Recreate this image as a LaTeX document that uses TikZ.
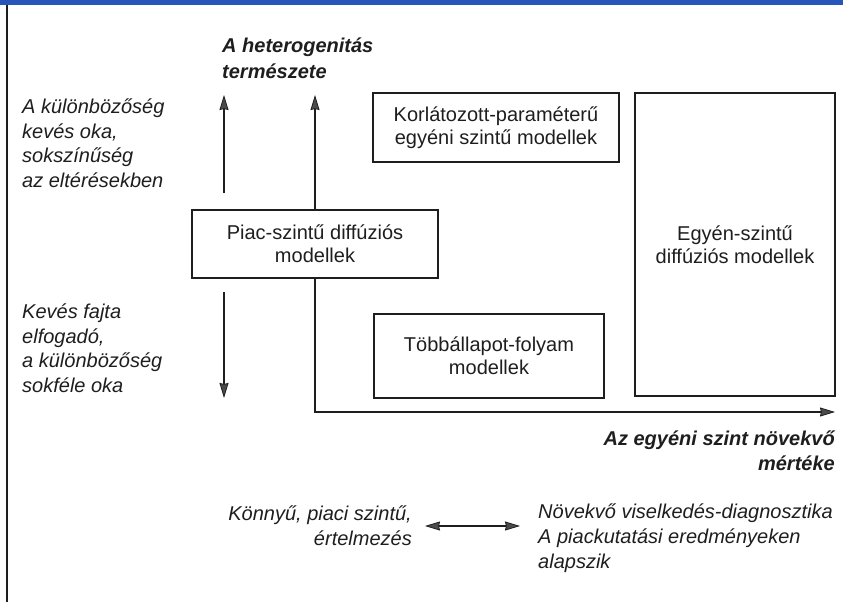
\documentclass[tikz,border=0pt]{standalone}
\usepackage{fontspec}
\setmainfont{Liberation Sans}
\usetikzlibrary{arrows.meta}
\definecolor{barblue}{RGB}{40,85,185}
\definecolor{ink}{RGB}{30,30,30}
\begin{document}
\begin{tikzpicture}[x=1pt,y=-1pt,
  every node/.style={inner sep=0pt, text=ink},
  box/.style={draw=ink, line width=1.2pt, align=center, font=\fontsize{20}{23}\selectfont},
  lab/.style={align=left, font=\fontsize{20}{24.5}\selectfont\itshape},
  labr/.style={align=right, font=\fontsize{20}{25}\selectfont\itshape},
  title/.style={align=left, font=\fontsize{20}{26}\selectfont\bfseries\itshape},
  titler/.style={align=right, font=\fontsize{20}{25}\selectfont\bfseries\itshape},
  axis/.style={draw=ink, line width=1.2pt},
  tip/.tip={Stealth[length=15pt,width=9pt,inset=1pt,fill=ink!80,line width=0.8pt]},
  arr/.style={axis, -tip},
  darr/.style={axis, tip-tip}
]
\useasboundingbox (0,0) rectangle (843,602);
% frame
\fill[barblue] (0,0) rectangle (843,5);
\draw[ink, line width=1.5pt] (7,5) -- (7,602);

% title (base anchor = last line baseline)
\node[title, anchor=base west] (ttl) at (222,78) {A heterogenitás\\természete};

% boxes
\node[box, minimum width=246pt, minimum height=68pt] (piac) at (315,244) {Piac-szintű diffúziós\\modellek};
\node[box, minimum width=246pt, minimum height=69pt] (korl) at (496,127.5) {Korlátozott-paraméterű\\egyéni szintű modellek};
\node[box, minimum width=200pt, minimum height=303pt] (egyen) at (735,244.5) {Egyén-szintű\\diffúziós modellek};
\node[box, minimum width=230pt, minimum height=84pt] (tobb) at (489,356) {Többállapot-folyam\\modellek};

% left labels
\node[lab, anchor=base west] (few) at (22,187) {A különbözőség\\kevés oka,\\sokszínűség\\az eltérésekben};
\node[lab, anchor=base west] (many) at (22,392) {Kevés fajta\\elfogadó,\\a különbözőség\\sokféle oka};

% vertical arrows
\coordinate (lu0) at (224,193);
\coordinate (lu1) at (224,95);
\coordinate (ld0) at (224,292);
\coordinate (ld1) at (224,398);
\coordinate (mu1) at (315,95);
\coordinate (corner) at (315,412);
\coordinate (xend) at (835,412);
\draw[arr] (lu0) -- (lu1);
\draw[arr] (ld0) -- (ld1);
\draw[arr] (piac.north) -- (mu1);
\draw[arr] (piac.south) -- (corner) -- (xend);

% x-axis label
\node[titler, anchor=base east] (xlab) at (835,470) {Az egyéni szint növekvő\\mértéke};

% bottom
\node[labr, anchor=base east] (easy) at (412,545) {Könnyű, piaci szintű,\\értelmezés};
\node[labr, align=left, anchor=base west] (grow) at (538,568) {Növekvő viselkedés-diagnosztika\\A piackutatási eredményeken\\alapszik};
\coordinate (da0) at (425,526);
\coordinate (da1) at (520,526);
\draw[darr] (da0) -- (da1);
\end{tikzpicture}
\end{document}
